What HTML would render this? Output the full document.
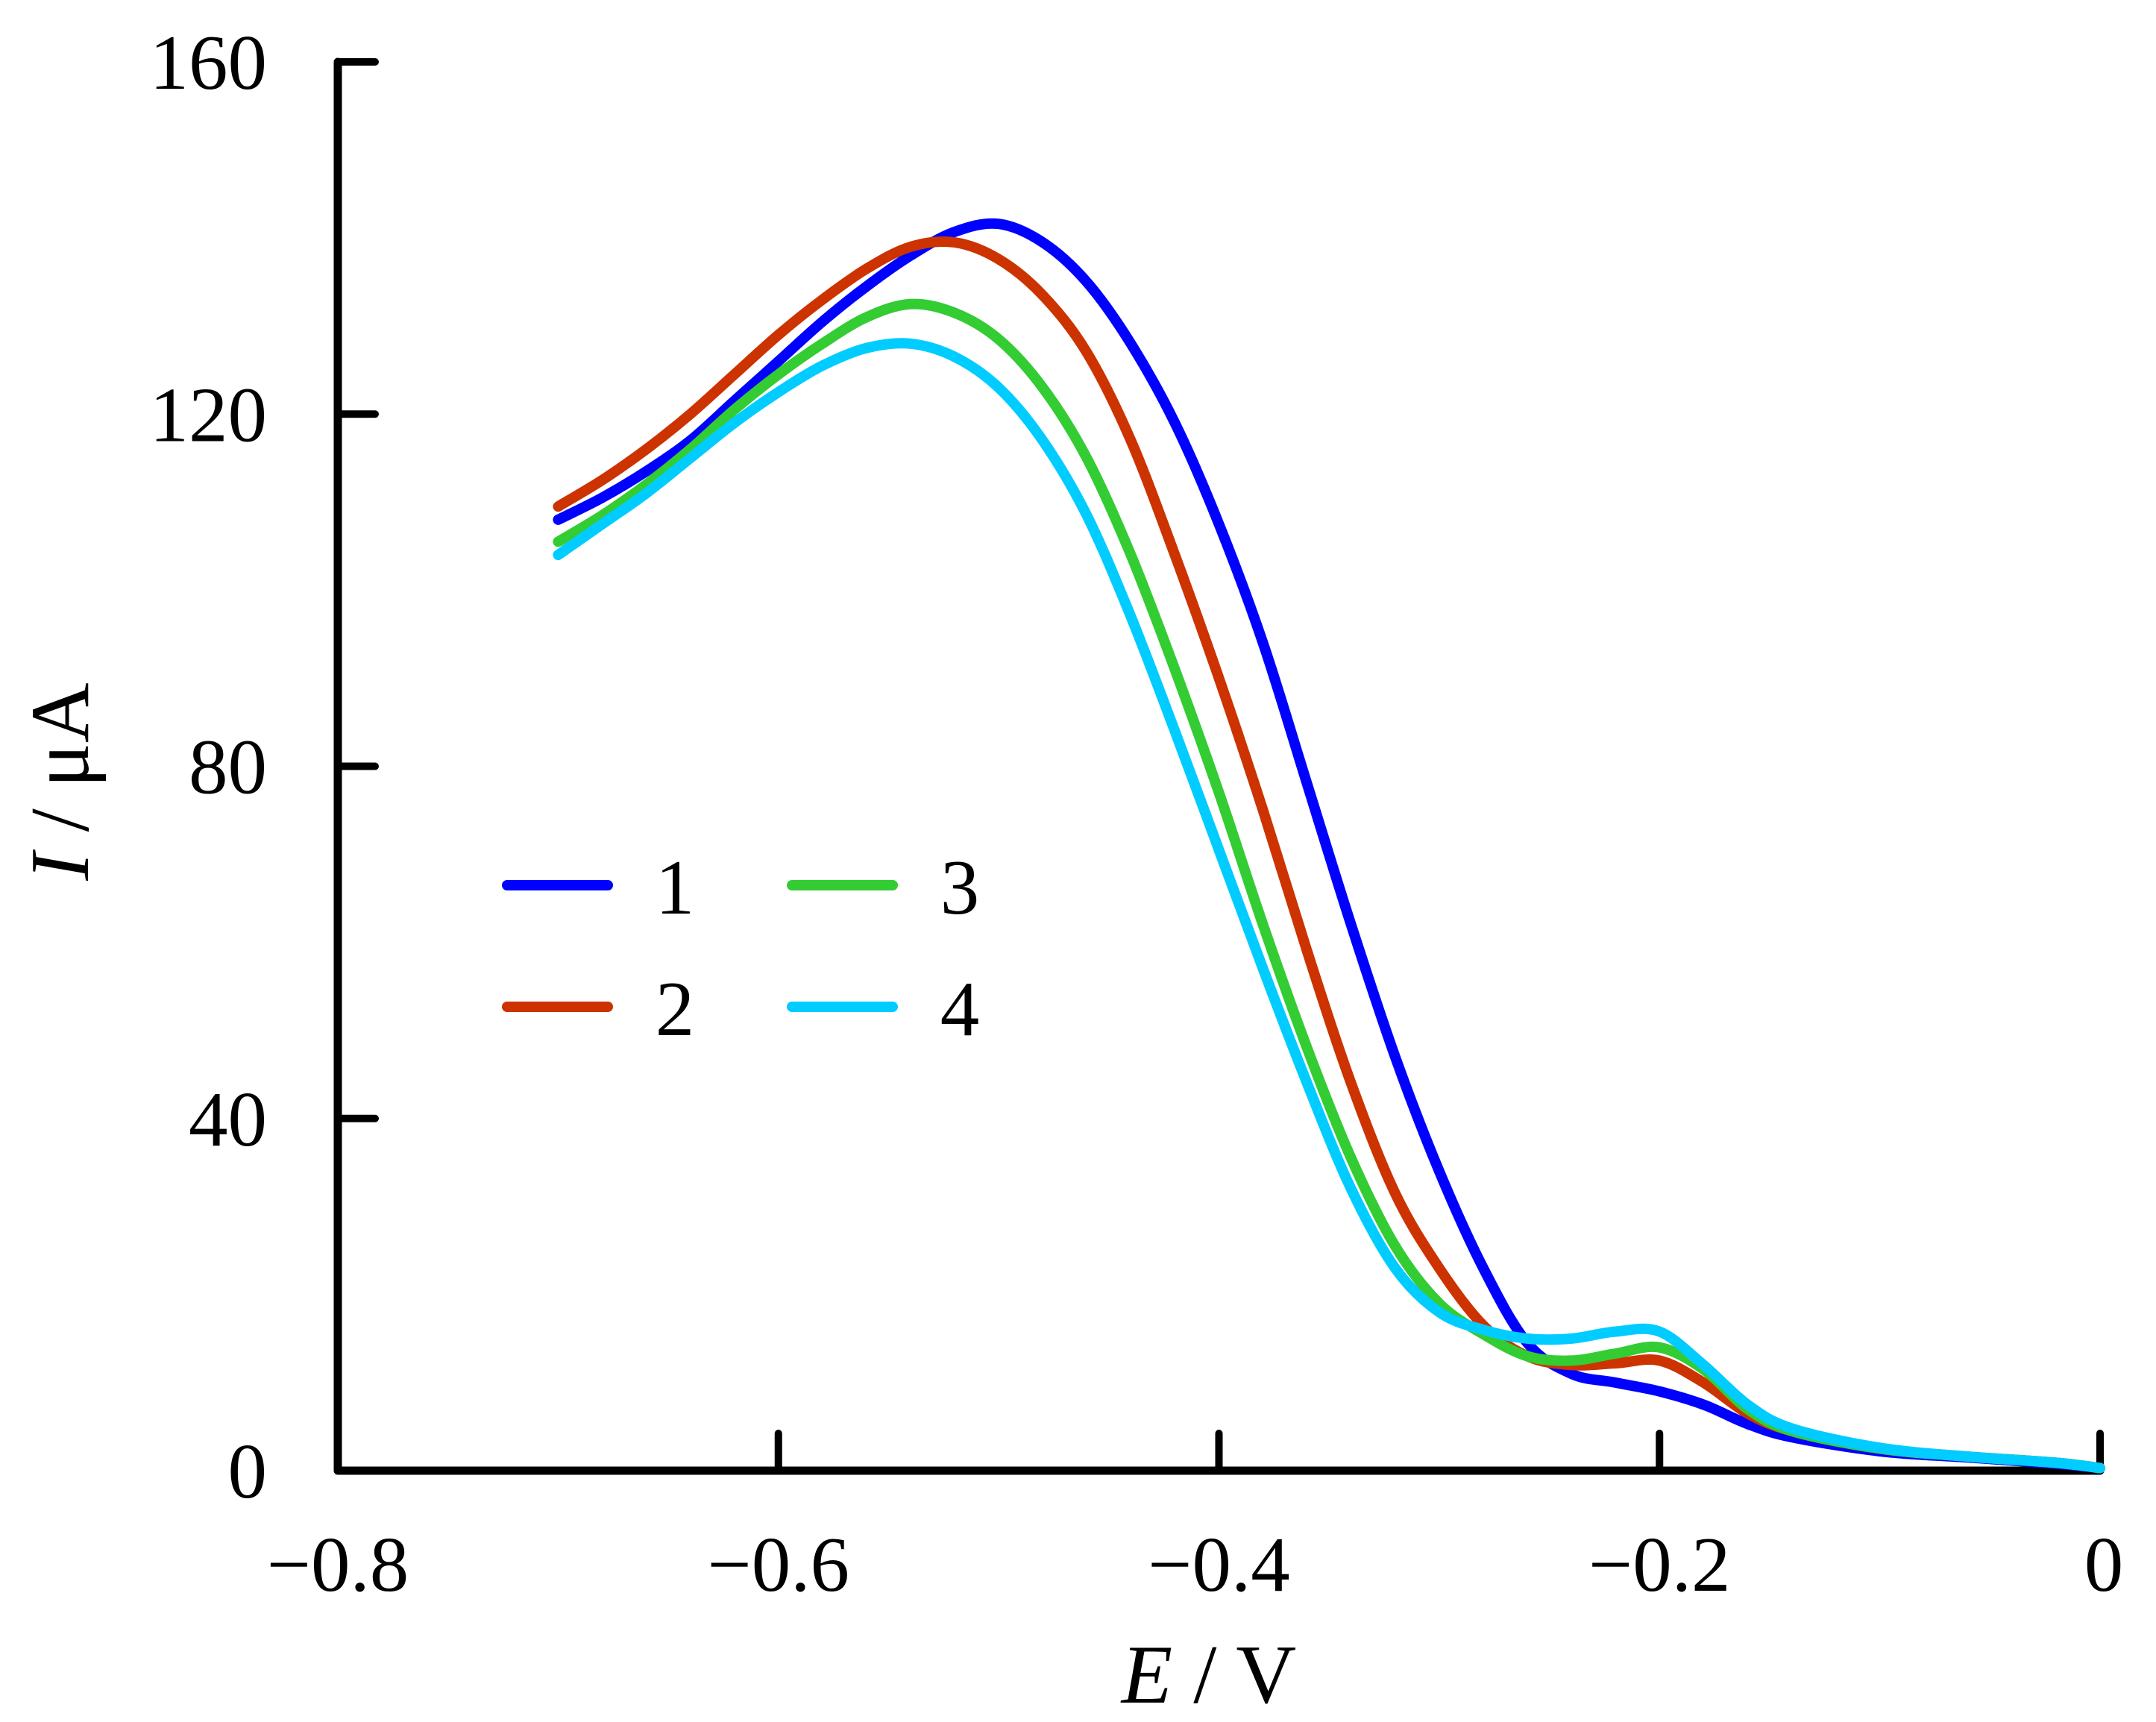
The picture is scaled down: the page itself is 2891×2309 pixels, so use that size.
<!DOCTYPE html>
<html><head><meta charset="utf-8"><style>
html,body{margin:0;padding:0;background:#fff;}
svg{display:block;}
text{font-family:"Liberation Serif","Times New Roman",Times,serif;fill:#000;}
</style></head><body>
<svg id="chart" width="2891" height="2309" viewBox="0 0 2891 2309" xmlns="http://www.w3.org/2000/svg"></svg>
<script>
const potentials=[-0.7,-0.68,-0.66,-0.64,-0.62,-0.6,-0.58,-0.56,-0.54,-0.52,-0.5,-0.48,-0.46,-0.44,-0.42,-0.4,-0.38,-0.36,-0.34,-0.32,-0.3,-0.28,-0.26,-0.24,-0.22,-0.2,-0.18,-0.16,-0.14,-0.1,-0.06,-0.02,0];
const series1=[108,110.5,113.5,117,121.5,126,130.5,134.5,138,140.7,141.6,139.5,135,128,119,107.5,94,78,62,47,34,23,14.5,11,10,9,7.5,5.3,3.8,2.2,1.5,0.8,0.3];
const series2=[109.5,112.5,116,120,124.5,129,133,136.5,139,139.5,137.6,133.5,127,117,104,90,75,59,44,31.5,23,16.5,13,12,12.2,12.5,10,6.5,4.5,2.5,1.6,0.9,0.3];
const series3=[105.5,108.5,112,116,120.5,124.5,128,131,132.5,131.5,128.5,123,115,104,91,77,62,48,35.5,25.5,19,15.5,13,12.5,13.3,14,11.5,7,4.5,2.5,1.6,0.9,0.3];
const series4=[104,107.5,111,115,119,122.5,125.5,127.5,128,126.5,123,117,108.5,97,84,70.5,57,44,32,23,18,16,15,15,15.8,15.8,12,7.5,4.8,2.6,1.6,0.9,0.3];
const seriesNames=["1","2","3","4"];
const seriesColors=["#0000ff","#cc3300","#33cc33","#00ccff"];
const xTicks=[-0.8,-0.6,-0.4,-0.2,0];
const xTickLabels=["\u22120.8","\u22120.6","\u22120.4","\u22120.2","0"];
const yTicks=[0,40,80,120,160];
const yTickLabels=["0","40","80","120","160"];

const NS="http://www.w3.org/2000/svg";
const svg=document.getElementById('chart');
const X0=453,X1=2816,Y0=1972,Y1=83;
const xs=e=>X0+(e-(-0.8))/0.8*(X1-X0);
const ys=v=>Y0-(v/160)*(Y0-Y1);
function mk(tag,attrs,parent){const el=document.createElementNS(NS,tag);for(const k in attrs)el.setAttribute(k,attrs[k]);(parent||svg).appendChild(el);return el;}

function pathFor(vals){
  const p=potentials.map((e,i)=>[xs(e),ys(vals[i])]);
  let d="M"+p[0][0].toFixed(1)+","+p[0][1].toFixed(1);
  for(let i=0;i<p.length-1;i++){
    const a=p[Math.max(0,i-1)],b=p[i],c=p[i+1],dd=p[Math.min(p.length-1,i+2)];
    const c1=[b[0]+(c[0]-a[0])/6,b[1]+(c[1]-a[1])/6];
    const c2=[c[0]-(dd[0]-b[0])/6,c[1]-(dd[1]-b[1])/6];
    d+="C"+c1[0].toFixed(1)+","+c1[1].toFixed(1)+" "+c2[0].toFixed(1)+","+c2[1].toFixed(1)+" "+c[0].toFixed(1)+","+c[1].toFixed(1);
  }
  return d;
}

const axes=mk('path',{d:`M${X0},${Y1} L${X0},${Y0} L${X1},${Y0}`,fill:'none',stroke:'#000','stroke-width':11,'stroke-linejoin':'round','stroke-linecap':'round'});



yTicks.forEach((v,i)=>{
  const t=mk('line',{x1:X0,x2:X0+50,y1:ys(v),y2:ys(v),stroke:'#000','stroke-width':10,'stroke-linecap':'round'});
  
  
  const l=mk('text',{x:358,y:ys(v)+36,'text-anchor':'end','font-size':105,'font-family':'Liberation Serif, serif'});
  l.textContent=yTickLabels[i];
  
  
});
xTicks.forEach((v,i)=>{
  if(i>0){
    const t=mk('line',{x1:xs(v),x2:xs(v),y1:Y0,y2:Y0-50,stroke:'#000','stroke-width':10,'stroke-linecap':'round'});
    
    
  }
  const l=mk('text',{x:xs(v)+(i==4?5:0),y:2133,'text-anchor':'middle','font-size':105,'font-family':'Liberation Serif, serif'});
  l.textContent=xTickLabels[i];
  
  
});

const all=[series1,series2,series3,series4];
all.forEach((s,i)=>{
  const p=mk('path',{d:pathFor(s),fill:'none',stroke:seriesColors[i],'stroke-width':14,'stroke-linecap':'round','stroke-linejoin':'round'});
  
  
});

const legPos=[[680,1187],[680,1350],[1062,1187],[1062,1350]];
seriesNames.forEach((n,i)=>{
  const [lx,ly]=legPos[i];
  const g=mk('g',{});
  
  
  mk('line',{x1:lx,x2:lx+135,y1:ly,y2:ly,stroke:seriesColors[i],'stroke-width':14,'stroke-linecap':'round'},g);
  const t=mk('text',{x:lx+225,y:ly+38,'text-anchor':'middle','font-size':105,'font-family':'Liberation Serif, serif'},g);
  t.textContent=n;
});

const yt=mk('text',{x:0,y:0,'text-anchor':'middle','font-size':112,'font-family':'Liberation Serif, serif',transform:'translate(118,1048) rotate(-90)'});
yt.innerHTML='<tspan font-style="italic">I</tspan> / μA';


const xt=mk('text',{x:1621,y:2283,'text-anchor':'middle','font-size':112,'font-family':'Liberation Serif, serif'});
xt.innerHTML='<tspan font-style="italic">E</tspan> / V';


</script>
</body></html>
